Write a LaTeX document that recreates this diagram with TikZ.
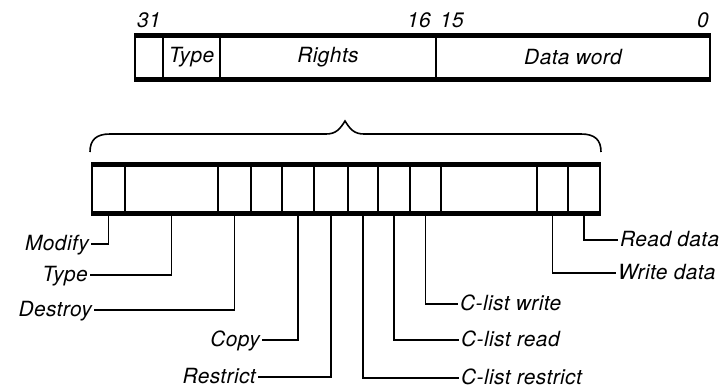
\documentclass[tikz,border=0pt]{standalone}
\usepackage{fontspec}
\setmainfont{TeX Gyre Heros}[LetterSpace=2]
\usetikzlibrary{positioning}

\begin{document}
\begin{tikzpicture}[x=1bp,y=-1bp,font=\fontsize{21}{25}\selectfont\itshape,
 cell/.style={draw,line width=1.3bp,inner sep=0pt},
 rim/.style={line width=4.5bp},
 lead/.style={line width=1.6bp},
 tag/.style={inner sep=2bp,text height=14bp,text depth=2bp}]
\useasboundingbox (0,0) rectangle (721,387);
% capability word
\foreach \l/\r/\n/\t in {135/163/wa/,163/220/wt/Type,220/436/wr/Rights,436/710/wd/Data word}
  \node[cell,minimum width={(\r-\l)*1bp},minimum height=43bp] (\n) at ({(\l+\r)/2},57.5) {\t};
\draw[rim] (wa.north west) -- (wd.north east);
\draw[rim] (wa.south west) -- (wd.south east);
\node[anchor=base west,inner sep=0pt] (b31) at (137,27) {31};
\node[anchor=base east,inner sep=0pt] (b16) at (431,27) {16};
\node[anchor=base west,inner sep=0pt] (b15) at (440,27) {15};
\node[anchor=base east,inner sep=0pt] (b0) at (709,27) {0};
% brace over the rights field
\draw[lead] (90,152) .. controls (90,140) and (96,134) .. (110,134) -- (326,134)
  .. controls (336,134) and (340,129) .. (345,121) .. controls (350,129) and (354,134) .. (364,134)
  -- (581,134) .. controls (595,134) and (601,140) .. (601,152);
% rights bits
\foreach \l/\r/\n in {92/125/md,125/218/ty,218/251/ds,251/282/un,282/314/cp,314/348/rs,
  348/378/cr,378/410/cl,410/441/cw,441/537/sp,537/568/wt2,568/600/rt}
  \node[cell,minimum width={(\r-\l)*1bp},minimum height=48bp] (\n) at ({(\l+\r)/2},189) {};
\draw[rim] (md.north west) -- (rt.north east);
\draw[rim] (md.south west) -- (rt.south east);
% labels
\node[tag,anchor=east] (lmd) at (91,244) {Modify};
\node[tag,anchor=east] (lty) at (90,275) {Type};
\node[tag,anchor=east] (lds) at (94,310) {Destroy};
\node[tag,anchor=east] (lcp) at (262,340) {Copy};
\node[tag,anchor=east] (lrs) at (258,377) {Restrict};
\node[tag,anchor=west] (lcr) at (459,378) {C-list restrict};
\node[tag,anchor=west] (lcl) at (459,340) {C-list read};
\node[tag,anchor=west] (lcw) at (458,304) {C-list write};
\node[tag,anchor=west] (lwt) at (616,273) {Write data};
\node[tag,anchor=west] (lrt) at (618,240) {Read data};
\foreach \c/\t in {md/lmd,ty/lty,ds/lds,cp/lcp,rs/lrs,cr/lcr,cl/lcl,cw/lcw,wt2/lwt,rt/lrt}
  \draw[lead] (\c.south) |- (\t);
\end{tikzpicture}
\end{document}
